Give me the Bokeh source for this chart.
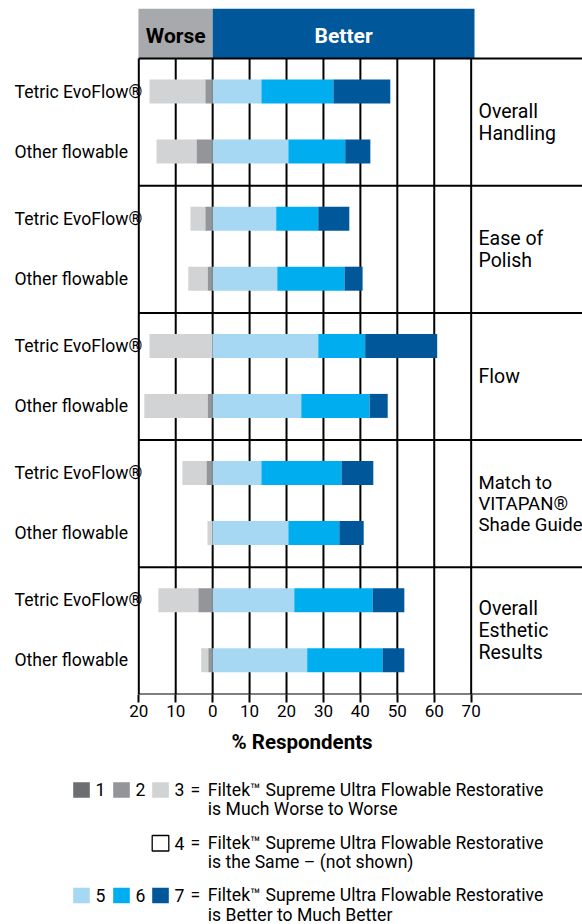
import numpy as np
from bokeh.plotting import figure
from bokeh.models import Range1d, FixedTicker, Title
from bokeh.layouts import column
from bokeh.core.properties import value
from bokeh.embed import file_html
from bokeh.resources import INLINE

FONT = "Roboto"

# ---------------- data ----------------
categories = ["Overall\nHandling", "Ease of\nPolish", "Flow",
              "Match to\nVITAPAN®\nShade Guide", "Overall\nEsthetic\nResults"]
products = ["Tetric EvoFlow®", "Other flowable"]
# order: for each category -> Tetric EvoFlow, Other flowable  (% respondents)
much_worse_1 = [0.0, 0.0, 0.0, 0.0, 0.0, 0.0, 0.0, 0.0, 0.0, 0.0]
worse_2      = [2.0, 4.4, 2.0, 1.4, 0.0, 1.4, 1.7, 0.0, 3.9, 1.2]
worse_3      = [15.1, 10.8, 4.0, 5.2, 17.1, 17.1, 6.5, 1.4, 10.8, 1.9]
better_5     = [13.2, 20.5, 17.2, 17.5, 28.6, 24.0, 13.2, 20.5, 22.1, 25.6]
better_6     = [19.5, 15.4, 11.4, 18.2, 12.7, 18.5, 21.7, 13.8, 21.2, 20.4]
much_better_7 = [15.4, 6.8, 8.4, 4.9, 19.5, 4.9, 8.6, 6.6, 8.6, 5.9]

x_ticks = [-20, -10, 0, 10, 20, 30, 40, 50, 60, 70]
x_tick_labels = ["20", "10", "0", "10", "20", "30", "40", "50", "60", "70"]

legend_codes = ["1", "2", "3", "4", "5", "6", "7"]
legend_line1 = "Filtek™ Supreme Ultra Flowable Restorative"
legend_line2 = ["is Much Worse to Worse", "is the Same – (not shown)",
                "is Better to Much Better"]

# ---------------- styles ----------------
C1, C2, C3 = "#6d6e71", "#939598", "#d1d3d4"
C5, C6, C7 = "#a6d8f4", "#00aeef", "#00579a"
HDR_GRAY, HDR_BLUE = "#a7a9ac", "#00579a"

PX = 3.693            # px per % unit
ROW = 127.2           # px per category row
FRAME_H = 686
W = 582
TOP = 8
BOTTOM = 76
MAIN_H = TOP + FRAME_H + BOTTOM
n = len(categories)

x_start = -20 - 138.3 / PX
x_end = x_start + W / PX
y_end = FRAME_H / ROW

p = figure(width=W, height=MAIN_H, x_range=Range1d(x_start, x_end),
           y_range=Range1d(0, y_end), output_backend="svg",
           toolbar_location=None, y_axis_location=None,
           min_border_left=0, min_border_right=0, min_border_top=TOP,
           min_border_bottom=BOTTOM, outline_line_color=None)
p.grid.visible = False

# header
p.quad(left=[-20.1], right=[0], bottom=[n], top=[y_end], fill_color=HDR_GRAY, line_color=None)
p.quad(left=[0], right=[70.9], bottom=[n], top=[y_end], fill_color=HDR_BLUE, line_color=None)
hy = n + (y_end - n) * 0.45
p.text(x=[-10], y=[hy], text=["Worse"], text_font=value(FONT), text_font_style="bold",
       text_font_size="21px", text_color="black", text_align="center", text_baseline="middle")
p.text(x=[35.45], y=[hy], text=["Better"], text_font=value(FONT), text_font_style="bold",
       text_font_size="21px", text_color="white", text_align="center", text_baseline="middle")

# grid lines
p.segment(x0=x_ticks, y0=[0] * len(x_ticks), x1=x_ticks, y1=[n] * len(x_ticks),
          line_color="black", line_width=2)
rows = list(range(n + 1))
p.segment(x0=[-20] * len(rows), y0=rows, x1=[x_end] * len(rows), y1=rows,
          line_color="black", line_width=2)

# bars
row_idx = np.repeat(np.arange(n), 2)
prod_idx = np.tile([0, 1], n)
offsets = np.array([33 / ROW, 93 / ROW])
yc = n - row_idx - offsets[prod_idx]
bh = 24 / ROW

w1, w2, w3 = np.array(much_worse_1), np.array(worse_2), np.array(worse_3)
b5, b6, b7 = np.array(better_5), np.array(better_6), np.array(much_better_7)

segs = [
    (-w2, np.zeros(2 * n), C2),
    (-(w2 + w3), -w2, C3),
    (-(w1 + w2 + w3), -(w2 + w3), C1),
    (np.zeros(2 * n), b5, C5),
    (b5, b5 + b6, C6),
    (b5 + b6, b5 + b6 + b7, C7),
]
for left, right, col in segs:
    p.hbar(y=yc, left=left, right=right, height=bh, fill_color=col, line_color=None)

# left labels (products)
lx = x_start + 14 / PX
p.text(x=[lx] * (2 * n), y=yc, text=[products[i] for i in prod_idx],
       text_font=value(FONT), text_font_size="17.6px", text_color="black",
       text_align="left", text_baseline="middle")

# right labels (categories)
rx = x_start + 478 / PX
cat_sizes = ["19.5px", "19.5px", "19.5px", "18.6px", "19.5px"]
p.text(x=[rx] * n, y=[n - i - 0.5 for i in range(n)], text=categories,
       text_font=value(FONT), text_font_size=cat_sizes, text_color="black",
       text_align="left", text_baseline="middle", text_line_height=0.96)

# x axis
ax = p.xaxis[0]
ax.ticker = FixedTicker(ticks=x_ticks)
ax.major_label_overrides = {t: l for t, l in zip(x_ticks, x_tick_labels)}
ax.axis_line_color = None
ax.major_tick_in = 0
ax.major_tick_out = 8
ax.major_tick_line_width = 2
ax.major_tick_line_color = "black"
ax.minor_tick_line_color = None
ax.major_label_standoff = 2
ax.major_label_text_font = FONT
ax.major_label_text_font_size = "17px"
ax.major_label_text_color = "black"

t = Title(text="% Respondents", align="left", offset=231, standoff=17,
          text_font=FONT, text_font_style="bold", text_font_size="20.5px",
          text_color="black")
p.add_layout(t, "below")

# ---------------- legend figure ----------------
LEG_H = 924 - MAIN_H
leg = figure(width=W, height=LEG_H, x_range=Range1d(0, W),
             y_range=Range1d(924, MAIN_H), output_backend="svg",
             toolbar_location=None, x_axis_location=None, y_axis_location=None,
             min_border=0, outline_line_color=None)
leg.grid.visible = False

FS = "17.6px"
sw_left = [72.7, 112.7, 151.7]
sw_w, sw_h = 16.6, 15.5
row_tops = [781.7, 835.0, 887.3]
line_y = [789.0, 842.5, 894.6]
line_gap = 19.4

groups = [([0, 1, 2], [C1, C2, C3]), ([3], ["white"]), ([4, 5, 6], [C5, C6, C7])]
for r, (codes, cols) in enumerate(groups):
    start_col = 3 - len(codes)
    for k, (ci, col) in enumerate(zip(codes, cols)):
        cx = sw_left[start_col + k]
        leg.quad(left=[cx], right=[cx + sw_w], top=[row_tops[r]], bottom=[row_tops[r] + sw_h],
                 fill_color=col, line_color="black" if col == "white" else None,
                 line_width=1.3)
        leg.text(x=[cx + 22.3], y=[line_y[r]], text=[legend_codes[ci]], text_font=value(FONT),
                 text_font_size=FS, text_color="black", text_align="left",
                 text_baseline="middle")
    leg.text(x=[190], y=[line_y[r]], text=["="], text_font=value(FONT),
             text_font_size=FS, text_color="black", text_align="left",
             text_baseline="middle")
    leg.text(x=[207.3, 207.3], y=[line_y[r], line_y[r] + line_gap],
             text=[legend_line1, legend_line2[r]], text_font=value(FONT),
             text_font_size=FS, text_color="black", text_align="left",
             text_baseline="middle")

layout = column(p, leg, spacing=0)
open("out.html", "w").write(file_html(layout, INLINE))
